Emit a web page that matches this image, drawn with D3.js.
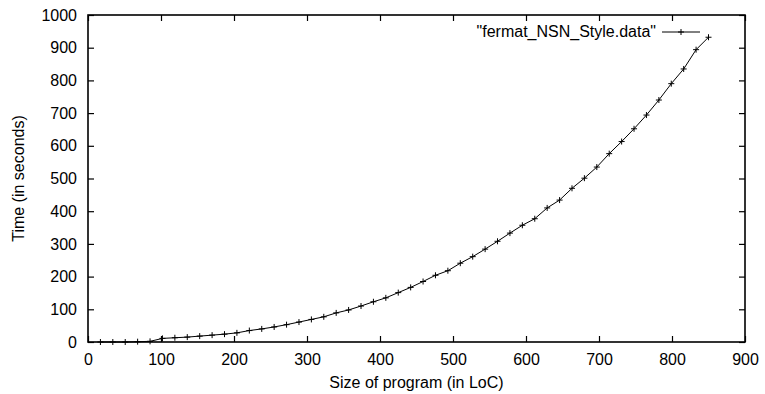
<!DOCTYPE html>
<html>
<head>
<meta charset="utf-8">
<script src="https://cdn.jsdelivr.net/npm/d3@7/dist/d3.min.js"></script>
<style>
  body { margin: 0; background: #fff; }
  svg text { font-family: "Liberation Sans", Arial, Helvetica, sans-serif; fill: #000; }
</style>
</head>
<body>
<svg id="chart" width="765" height="394"></svg>
<script>
// program sizes (LoC) and timings (seconds)
var sizes = [17, 34, 51, 68, 85, 102, 119, 136, 153, 170,
             187, 204, 221, 238, 255, 272, 289, 306, 323, 340,
             357, 374, 391, 408, 425, 442, 459, 476, 493, 510,
             527, 544, 561, 578, 595, 612, 629, 646, 663, 680,
             697, 714, 731, 748, 765, 782, 799, 816, 833, 850];
var times = [0, 0, 0, 1, 2, 11, 13, 15, 18, 21,
             24, 28, 35, 40, 46, 53, 61, 69, 77, 89,
             98, 110, 123, 135, 151, 167, 185, 204, 218, 241,
             261, 284, 308, 333, 357, 377, 410, 434, 470, 501,
             535, 576, 613, 652, 694, 740, 790, 835, 894, 932];
var xTicks = [0, 100, 200, 300, 400, 500, 600, 700, 800, 900];
var yTicks = [0, 100, 200, 300, 400, 500, 600, 700, 800, 900, 1000];
var seriesName = '"fermat_NSN_Style.data"';

var svg = d3.select("#chart");
var pLeft = 88, pRight = 745, pTop = 15, pBottom = 342;
var tickLen = 6;

var x = d3.scaleLinear().domain([0, 900]).range([pLeft, pRight]);
var y = d3.scaleLinear().domain([0, 1000]).range([pBottom, pTop]);

//axes (gnuplot style: inward ticks on all four sides)
svg.append("g")
    .attr("transform", "translate(0," + pBottom + ")")
    .call(d3.axisBottom(x).tickValues(xTicks).tickSizeInner(-tickLen).tickSizeOuter(0).tickPadding(12).tickFormat(d3.format("d")))
    .call(g => g.select(".domain").remove())
    .selectAll("text").style("font-size", "16px");
svg.append("g")
    .attr("transform", "translate(0," + pTop + ")")
    .call(d3.axisTop(x).tickValues(xTicks).tickSizeInner(-tickLen).tickSizeOuter(0).tickFormat(""))
    .call(g => g.select(".domain").remove());
svg.append("g")
    .attr("transform", "translate(" + pLeft + ",0)")
    .call(d3.axisLeft(y).tickValues(yTicks).tickSizeInner(-tickLen).tickSizeOuter(0).tickPadding(11).tickFormat(d3.format("d")))
    .call(g => g.select(".domain").remove())
    .selectAll("text").style("font-size", "16px");
svg.append("g")
    .attr("transform", "translate(" + pRight + ",0)")
    .call(d3.axisRight(y).tickValues(yTicks).tickSizeInner(-tickLen).tickSizeOuter(0).tickFormat(""))
    .call(g => g.select(".domain").remove());

svg.selectAll(".tick line").attr("stroke", "#000").attr("stroke-width", 1.2);

//frame
svg.append("rect")
    .attr("x", pLeft).attr("y", pTop)
    .attr("width", pRight - pLeft).attr("height", pBottom - pTop)
    .attr("fill", "none").attr("stroke", "#000").attr("stroke-width", 1.6);

//axis titles
svg.append("text")
    .attr("x", (pLeft + pRight) / 2).attr("y", 388)
    .attr("text-anchor", "middle")
    .style("font-size", "16px")
    .text("Size of program (in LoC)");
svg.append("text")
    .attr("transform", "translate(24," + ((pTop + pBottom) / 2) + ") rotate(-90)")
    .attr("text-anchor", "middle")
    .style("font-size", "16px")
    .text("Time (in seconds)");

//data line
var pts = sizes.map((s, i) => [s, times[i]]);
svg.append("path")
    .datum(pts)
    .attr("fill", "none")
    .attr("stroke", "#000")
    .attr("stroke-width", 1)
    .attr("d", d3.line().x(d => x(d[0])).y(d => y(d[1])));

//plus markers
function plus(g, cx, cy) {
    g.append("path")
        .attr("d", "M" + (cx - 3) + "," + cy + "H" + (cx + 3) + "M" + cx + "," + (cy - 3) + "V" + (cy + 3))
        .attr("stroke", "#000").attr("stroke-width", 1);
}
var marks = svg.append("g");
pts.forEach(d => plus(marks, x(d[0]), y(d[1])));

//legend
var lg = svg.append("g");
lg.append("text")
    .attr("x", 656).attr("y", 37)
    .attr("text-anchor", "end")
    .style("font-size", "16px")
    .text(seriesName);
lg.append("line")
    .attr("x1", 662).attr("x2", 700).attr("y1", 32).attr("y2", 32)
    .attr("stroke", "#000").attr("stroke-width", 1);
plus(lg, 681, 32);
</script>
</body>
</html>
